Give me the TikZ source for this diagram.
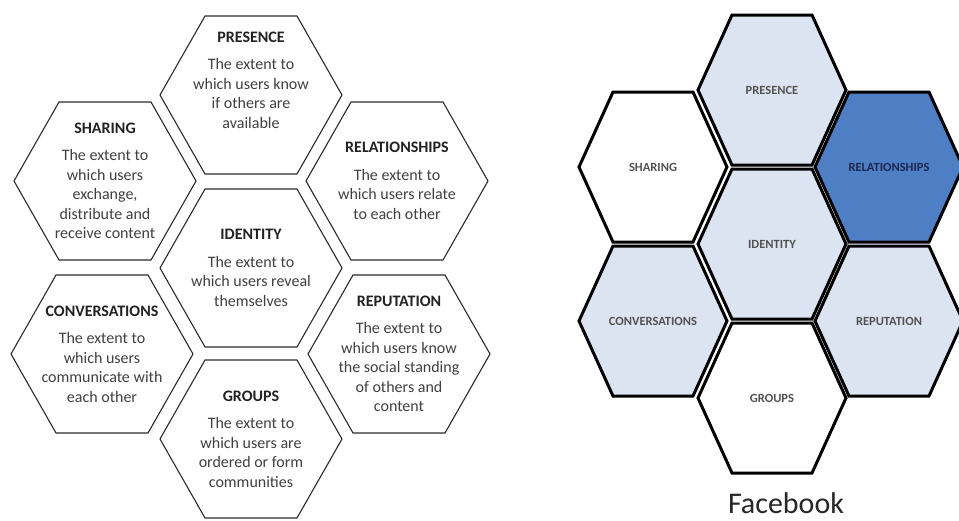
\documentclass[tikz,border=0pt]{standalone}
\usepackage{fontspec}
\setmainfont{Carlito}
\usepackage{tikz}
\usetikzlibrary{calc}

\definecolor{hexline}{HTML}{2B2B2B}
\definecolor{bodygray}{HTML}{404040}
\definecolor{titlegray}{HTML}{222222}
\definecolor{paleblue}{HTML}{DCE3F1}
\definecolor{deepblue}{HTML}{4E7EC3}
\definecolor{navy}{HTML}{1B2750}

\newcommand{\hexcell}[5]{\draw[#1](#2)++(-#3,0)--++(#3-#4,-#5)--++(2*#4,0)--++(#3-#4,#5)--++(#4-#3,#5)--++(-2*#4,0)--cycle;}
\newcommand{\celltitle}[1]{{\bfseries\color{titlegray}#1}}

\tikzset{
	cell/.style={draw=hexline,line width=1.1pt,line join=miter,fill=white},
	fbcell/.style={draw=black,line width=3pt,line join=miter},
	desc/.style={align=center,inner sep=0pt,text=bodygray,font=\fontsize{16}{19.5}\selectfont},
	tag/.style={inner sep=0pt,text=black!68,font=\fontsize{12.5}{15}\selectfont\bfseries},
}

\begin{document}
\begin{tikzpicture}[x=1pt,y=-1pt]
			\fill[white](0,0)rectangle(959,520);
			\useasboundingbox(0,0)rectangle(959,520);
			\coordinate(pres)at(251,95);
			\coordinate(shar)at(105,181);
			\coordinate(rel)at(397,181);
			\coordinate(iden)at(251,268);
			\coordinate(conv)at(102,354);
			\coordinate(rep)at(399,354);
			\coordinate(grp)at(251,439);
			\hexcell{cell}{pres}{91}{46}{79}
			\hexcell{cell}{shar}{91}{46}{79}
			\hexcell{cell}{rel}{91}{46}{79}
			\hexcell{cell}{iden}{91}{46}{79}
			\hexcell{cell}{conv}{91}{46}{79}
			\hexcell{cell}{rep}{91}{46}{79}
			\hexcell{cell}{grp}{91}{46}{79}
			\node[desc,yshift=15pt](presence)at(pres){\celltitle{PRESENCE}\\[8pt]The extent to\\which users know\\if others are\\available};
			\node[desc](sharing)at(shar){\celltitle{SHARING}\\[8pt]The extent to\\which users\\exchange,\\distribute and\\receive content};
			\node[desc](relationships)at(rel){\celltitle{RELATIONSHIPS}\\[8pt]The extent to\\which users relate\\to each other};
			\node[desc](identity)at(iden){\celltitle{IDENTITY}\\[8pt]The extent to\\which users reveal\\themselves};
			\node[desc](conversations)at(conv){\celltitle{CONVERSATIONS}\\[8pt]The extent to\\which users\\communicate with\\each other};
			\node[desc](reputation)at(rep){\celltitle{REPUTATION}\\[8pt]The extent to\\which users know\\the social standing\\of others and\\content};
			\node[desc](groups)at(grp){\celltitle{GROUPS}\\[8pt]The extent to\\which users are\\ordered or form\\communities};
			\coordinate(fbpres)at(772,90);
			\coordinate(fbshar)at(653,167);
			\coordinate(fbrel)at(889,167);
			\coordinate(fbiden)at(772,244);
			\coordinate(fbconv)at(653,321);
			\coordinate(fbrep)at(889,321);
			\coordinate(fbgrp)at(772,398);
			\hexcell{fbcell,fill=paleblue}{fbpres}{74}{40}{75}
			\hexcell{fbcell,fill=white}{fbshar}{74}{40}{75}
			\hexcell{fbcell,fill=deepblue}{fbrel}{74}{40}{75}
			\hexcell{fbcell,fill=paleblue}{fbiden}{74}{40}{75}
			\hexcell{fbcell,fill=paleblue}{fbconv}{74}{40}{75}
			\hexcell{fbcell,fill=paleblue}{fbrep}{74}{40}{75}
			\hexcell{fbcell,fill=white}{fbgrp}{74}{40}{75}
			\node[tag](fbpresence)at(fbpres){PRESENCE};
			\node[tag](fbsharing)at(fbshar){SHARING};
			\node[tag,text=navy](fbrelationships)at(fbrel){RELATIONSHIPS};
			\node[tag](fbidentity)at(fbiden){IDENTITY};
			\node[tag](fbconversations)at(fbconv){CONVERSATIONS};
			\node[tag](fbreputation)at(fbrep){REPUTATION};
			\node[tag](fbgroups)at(fbgrp){GROUPS};
			\node[anchor=base,inner sep=0pt,text=black!85,font=\fontsize{30}{36}\selectfont](facebook)at(786,513){Facebook};
		\end{tikzpicture}
\end{document}
